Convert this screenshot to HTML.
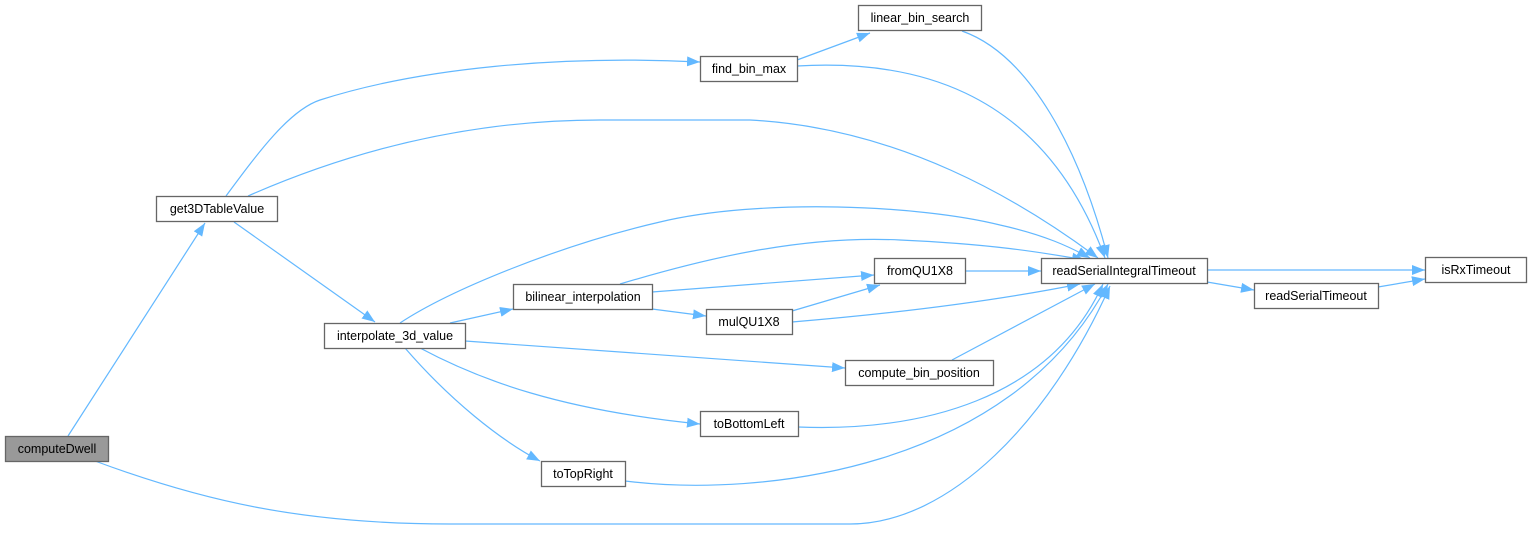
<!DOCTYPE html>
<html><head><meta charset="utf-8"><style>
html,body{margin:0;padding:0;background:#fff}
svg{display:block}
text{font-family:"Liberation Sans",Arial,sans-serif;font-size:12.5px;fill:#000}
</style></head><body>
<svg width="1532" height="533" viewBox="0 0 1532 533" xmlns="http://www.w3.org/2000/svg">
<defs>
<marker id="a" markerUnits="userSpaceOnUse" markerWidth="14" markerHeight="12" refX="13" refY="6" orient="auto">
<polygon points="0,1 13,6 0,11" fill="#63b8ff"/>
</marker>
</defs>
<g fill="none" stroke="#63b8ff" stroke-width="1.2" marker-end="url(#a)">
<path d="M68,436 L205,223"/>
<path d="M95,461 C200,500 300,524 450,524 L850,524 C950,524 1050,420 1110,286"/>
<path d="M226,196 C260,150 290,110 320,100 C420,68 560,55 700,62"/>
<path d="M248,196 C330,160 450,120 600,120 L750,120 C900,128 1020,200 1098,258"/>
<path d="M234,222 L375,322"/>
<path d="M797,60 L870,33"/>
<path d="M797,66 C900,60 1040,80 1105,258"/>
<path d="M962,31 C1030,55 1080,150 1108,258"/>
<path d="M400,323 C450,290 560,245 660,222 C760,198 920,205 1000,225 C1045,235 1070,247 1090,258"/>
<path d="M450,323 L513,309"/>
<path d="M465,341 L845,368"/>
<path d="M420,348 C480,380 560,410 700,424"/>
<path d="M405,348 C450,400 500,440 540,461"/>
<path d="M620,284 C700,260 800,235 900,240 C990,244 1040,252 1085,260"/>
<path d="M652,292 L874,275"/>
<path d="M652,309 L706,316"/>
<path d="M792,311 L880,285"/>
<path d="M792,322 C900,313 1000,300 1080,284"/>
<path d="M965,271 L1041,271"/>
<path d="M952,360 L1095,284"/>
<path d="M798,427 C920,432 1050,400 1103,284"/>
<path d="M625,481 C760,498 1010,470 1108,284"/>
<path d="M1207,270 L1425,270"/>
<path d="M1207,282 L1254,290"/>
<path d="M1378,287 L1425,279"/>
</g>
<g stroke="#666" stroke-width="1.3">
<rect x="5.5" y="436.5" width="103" height="25" fill="#999"/>
<rect x="156.5" y="196.5" width="121" height="25" fill="#fff"/>
<rect x="324.5" y="323.5" width="141" height="25" fill="#fff"/>
<rect x="700.5" y="56.5" width="97" height="25" fill="#fff"/>
<rect x="858.5" y="5.5" width="123" height="25" fill="#fff"/>
<rect x="513.5" y="284.5" width="139" height="25" fill="#fff"/>
<rect x="874.5" y="258.5" width="91" height="25" fill="#fff"/>
<rect x="706.5" y="309.5" width="86" height="25" fill="#fff"/>
<rect x="845.5" y="360.5" width="148" height="25" fill="#fff"/>
<rect x="700.5" y="411.5" width="98" height="25" fill="#fff"/>
<rect x="541.5" y="461.5" width="84" height="25" fill="#fff"/>
<rect x="1041.5" y="258.5" width="166" height="25" fill="#fff"/>
<rect x="1254.5" y="283.5" width="124" height="25" fill="#fff"/>
<rect x="1425.5" y="257.5" width="101" height="25" fill="#fff"/>
</g>
<g text-anchor="middle">
<text x="57" y="453">computeDwell</text>
<text x="217" y="213">get3DTableValue</text>
<text x="395" y="340">interpolate_3d_value</text>
<text x="749" y="73">find_bin_max</text>
<text x="920" y="22">linear_bin_search</text>
<text x="583" y="301">bilinear_interpolation</text>
<text x="920" y="275">fromQU1X8</text>
<text x="749" y="326">mulQU1X8</text>
<text x="919" y="377">compute_bin_position</text>
<text x="749" y="428">toBottomLeft</text>
<text x="583" y="478">toTopRight</text>
<text x="1124" y="275">readSerialIntegralTimeout</text>
<text x="1316" y="300">readSerialTimeout</text>
<text x="1476" y="274">isRxTimeout</text>
</g>
</svg>
</body></html>
